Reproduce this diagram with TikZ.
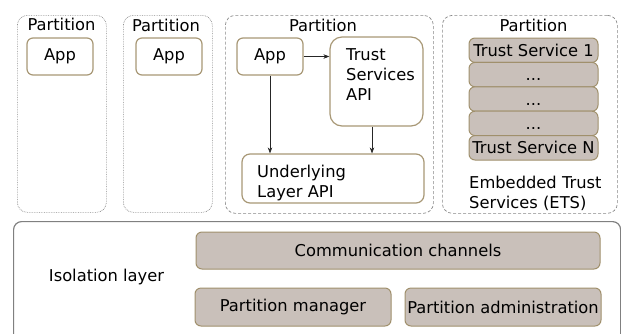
\documentclass[tikz,border=0pt]{standalone}
\usepackage{fontspec}
\setmainfont{DejaVu Sans}
\usetikzlibrary{arrows.meta}
\definecolor{boxedge}{RGB}{168,152,118}
\definecolor{svcfill}{RGB}{201,192,186}
\definecolor{svcedge}{RGB}{160,144,108}
\definecolor{partedge}{RGB}{135,135,135}
\definecolor{isoedge}{RGB}{128,128,128}
\begin{document}
\begin{tikzpicture}[x=1pt, y=-1pt, font=\fontsize{16.3}{20}\selectfont,
  partdot/.style={draw=partedge, line width=0.7pt, rounded corners=10pt, densely dotted, inner sep=0pt, anchor=north west},
  partdash/.style={draw=partedge, line width=0.7pt, rounded corners=10pt, dash pattern=on 3pt off 2pt, inner sep=0pt, anchor=north west},
  appbox/.style={draw=boxedge, line width=1.2pt, rounded corners=6pt, fill=white, inner sep=0pt},
  svcbox/.style={draw=svcedge, line width=1pt, rounded corners=6pt, fill=svcfill, inner sep=0pt},
  stackrow/.style={svcbox, minimum width=129pt, minimum height=24.4pt, text height=12pt, text depth=0pt},
  lbl/.style={inner sep=0pt, anchor=base},
  para/.style={inner sep=0pt, anchor=north west, align=left},
  arr/.style={-{Stealth[length=6pt,width=4.5pt]}, line width=0.6pt, draw=black!85}]
\useasboundingbox (0,0) rectangle (621,333);

% partitions
\node[partdot, minimum width=89pt, minimum height=197pt] (p1) at (17,15) {};
\node[partdot, minimum width=89pt, minimum height=197pt] (p2) at (123,15) {};
\node[partdash, minimum width=208pt, minimum height=198pt] (p3) at (225,15) {};
\node[partdash, minimum width=175pt, minimum height=198pt] (p4) at (442,15) {};
\node[lbl] (p1t) at (61.5,30) {Partition};
\node[lbl] (p2t) at (166,31) {Partition};
\node[lbl] (p3t) at (323,31.5) {Partition};
\node[lbl] (p4t) at (533.5,31) {Partition};

% applications
\node[appbox, minimum width=66pt, minimum height=37pt] (app1) at (60,56.5) {App};
\node[appbox, minimum width=66pt, minimum height=37pt] (app2) at (169,56.5) {App};
\node[appbox, minimum width=66pt, minimum height=37pt] (app3) at (270,56.5) {App};

% APIs inside the third partition
\node[appbox, rounded corners=12pt, minimum width=93pt, minimum height=89pt] (tsapi) at (376.5,81.5) {};
\node[para] (tstext) at (346,48.3) {Trust\\Services\\API};
\node[appbox, rounded corners=8pt, minimum width=182pt, minimum height=49pt] (ula) at (333,178.5) {};
\node[para] (ulatext) at (257,164.8) {Underlying\\Layer API};

\draw[arr] (app3.east) -- (app3.east -| tsapi.west);
\draw[arr] (app3.south) -- (app3.south |- ula.north);
\draw[arr] ([xshift=-4.5pt]tsapi.south) -- ([xshift=-4.5pt]tsapi.south |- ula.north);

% embedded trust services stack
\node[stackrow] (ts1) at (533.5,50.2) {Trust Service 1};
\node[stackrow] (dots1) at (533.5,74.6) {...};
\node[stackrow] (dots2) at (533.5,99) {...};
\node[stackrow] (dots3) at (533.5,123.4) {...};
\node[stackrow] (tsn) at (533.5,147.8) {Trust Service N};
\node[para] (etstext) at (469,175.8) {Embedded Trust\\Services (ETS)};

% isolation layer
\node[draw=isoedge, line width=1.2pt, rounded corners=8pt, inner sep=0pt, anchor=north west,
      minimum width=607pt, minimum height=135pt] (iso) at (13,221) {};
\node[lbl] (isotext) at (106.5,281) {Isolation layer};
\node[svcbox, minimum width=404pt, minimum height=37pt] (comm) at (398,250.5) {Communication channels};
\node[svcbox, minimum width=196pt, minimum height=38pt] (pm) at (293,307) {Partition manager};
\node[svcbox, minimum width=196pt, minimum height=38pt] (pa) at (503,307) {Partition administration};
\end{tikzpicture}
\end{document}
